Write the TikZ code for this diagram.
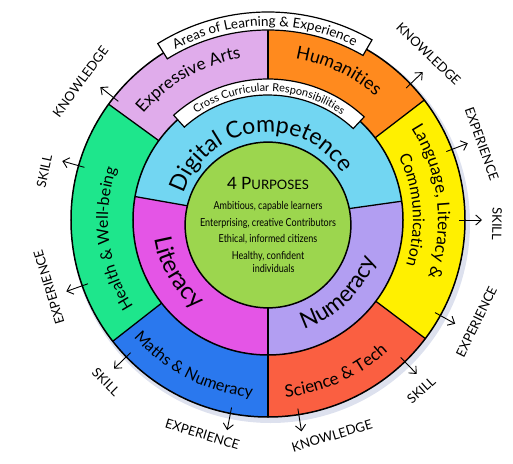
\documentclass[tikz,border=0pt]{standalone}
\usepackage{fontspec}
\setmainfont{Lato}
\newfontfamily\slimf[FakeStretch=0.82]{Lato}
\usepackage{tikz}
\usetikzlibrary{arrows.meta,decorations.text}
\definecolor{artsc}{HTML}{E0ACEB}
\definecolor{humc}{HTML}{FF8A1E}
\definecolor{langc}{HTML}{FFF000}
\definecolor{scic}{HTML}{FA5F41}
\definecolor{mathc}{HTML}{2A78EE}
\definecolor{healc}{HTML}{1EE68C}
\definecolor{digic}{HTML}{72D6F2}
\definecolor{litc}{HTML}{E455E6}
\definecolor{numc}{HTML}{B29EF2}
\definecolor{purpc}{HTML}{9CD64E}
\definecolor{shadc}{HTML}{DDE1EE}
\tikzset{
  rim/.style={draw=black,line width=1.5pt},
  sep/.style={black,line width=1.3pt},
  banner/.style={draw=black,line width=1.2pt,fill=white},
  ar/.style={-{Straight Barb[length=2mm,width=3.6mm]},line width=0.9pt},
  lab/.style={font=\fontsize{13}{15}\selectfont,inner sep=0pt},
  core/.style={circle,draw=black,line width=1.5pt,fill=purpc,minimum size=124pt,inner sep=0pt,align=center,
    font=\slimf\fontsize{11}{16.5}\selectfont}
}
\newcommand{\cwtext}[4]{%
  \path[decorate,decoration={text along path,text align=center,text={|#3|#4}}]
    ({#1+85}:#2) arc[start angle={#1+85},end angle={#1-85},radius=#2];}
\newcommand{\ccwtext}[4]{%
  \path[decorate,decoration={text along path,text align=center,text={|#3|#4}}]
    ({#1-85}:#2) arc[start angle={#1-85},end angle={#1+85},radius=#2];}

\begin{document}
\begin{tikzpicture}[x=1pt,y=1pt]
\useasboundingbox (-268,-243) rectangle (245,220);
\fill[shadc] (2.5,-3.5) circle (199.5);
\foreach \ang/\bng/\col in {90/144/artsc,144/218/healc,218/270/mathc,270/323/scic,-37/37.5/langc,37.5/90/humc}
  \fill[\col] (0,0) -- (\ang:197) arc[start angle=\ang,end angle=\bng,radius=197] -- cycle;
\foreach \ang in {37.5,90,144,218,270,323}
  \draw[sep] (\ang:135) -- (\ang:197);
\draw[rim] (0,0) circle (197);
\foreach \ang/\bng/\col in {8/170/digic,170/270/litc,270/368/numc}
  \fill[\col] (0,0) -- (\ang:135) arc[start angle=\ang,end angle=\bng,radius=135] -- cycle;
\foreach \ang in {8,170,270}
  \draw[sep] (0,0) -- (\ang:135);
\draw[rim] (0,0) circle (135);
\node[core] (purp) at (0,-5) {{\fontsize{17}{18}\selectfont\rmfamily 4 P\fontsize{13}{18}\selectfont URPOSES}\\[4pt]
  Ambitious, capable learners\\
  Enterprising, creative Contributors\\
  Ethical, informed citizens\\
  Healthy, confident\\[-3pt]
  \quad individuals};

\draw[banner] (122:190) arc[start angle=122,end angle=60,radius=190] -- (60:208) arc[start angle=60,end angle=122,radius=208] -- cycle;
\cwtext{91}{194}{\fontsize{13.5}{15}\selectfont}{Areas of Learning {\&} Experience}
\draw[banner] (132:125) arc[start angle=132,end angle=47,radius=125] -- (47:141) arc[start angle=47,end angle=132,radius=141] -- cycle;
\cwtext{89.5}{128.5}{\fontsize{11}{12}\selectfont}{Cross Curricular Responsibilities}

\cwtext{119.5}{164}{\fontsize{17}{19}\selectfont}{Expressive Arts}
\cwtext{64.7}{164}{\fontsize{18}{20}\selectfont}{Humanities}
\cwtext{6.5}{170}{\fontsize{17}{19}\selectfont}{Language, Literacy {\&}}
\cwtext{4}{145}{\fontsize{16}{18}\selectfont}{Communication}
\ccwtext{-66}{178}{\fontsize{17}{19}\selectfont}{Science {\&} Tech}
\ccwtext{-117}{178}{\fontsize{16}{18}\selectfont}{Maths {\&} Numeracy}
\cwtext{187}{160}{\fontsize{16}{18}\selectfont}{Health {\&} Well-being}
\cwtext{97.5}{88}{\fontsize{23}{25}\selectfont}{Digital Competence}
\ccwtext{210}{115}{\fontsize{24}{26}\selectfont}{Literacy}
\ccwtext{-46}{115}{\fontsize{23}{25}\selectfont}{Numeracy}

\foreach \ang/\lng/\rad/\word/\turn [count=\i] in {141.6/143.6/233/KNOWLEDGE/-90,164/167.7/229/SKILL/-90,
    199.5/197/229/EXPERIENCE/-90,224/225/229/SKILL/90,259/253/224/EXPERIENCE/90,
    279/286.5/225/KNOWLEDGE/90,314/312/229/SKILL/90,331/334/232/EXPERIENCE/90,
    0/-1/229/SKILL/-90,21/19.6/227/EXPERIENCE/-90,43.7/46/231/KNOWLEDGE/-90}{
  \coordinate (t\i) at (\ang:191);
  \coordinate (h\i) at (\ang:214);
  \draw[ar] (t\i) -- (h\i);
  \node[lab,rotate={\lng+(\turn)}] (l\i) at (\lng:\rad) {\word};
}
\end{tikzpicture}
\end{document}
